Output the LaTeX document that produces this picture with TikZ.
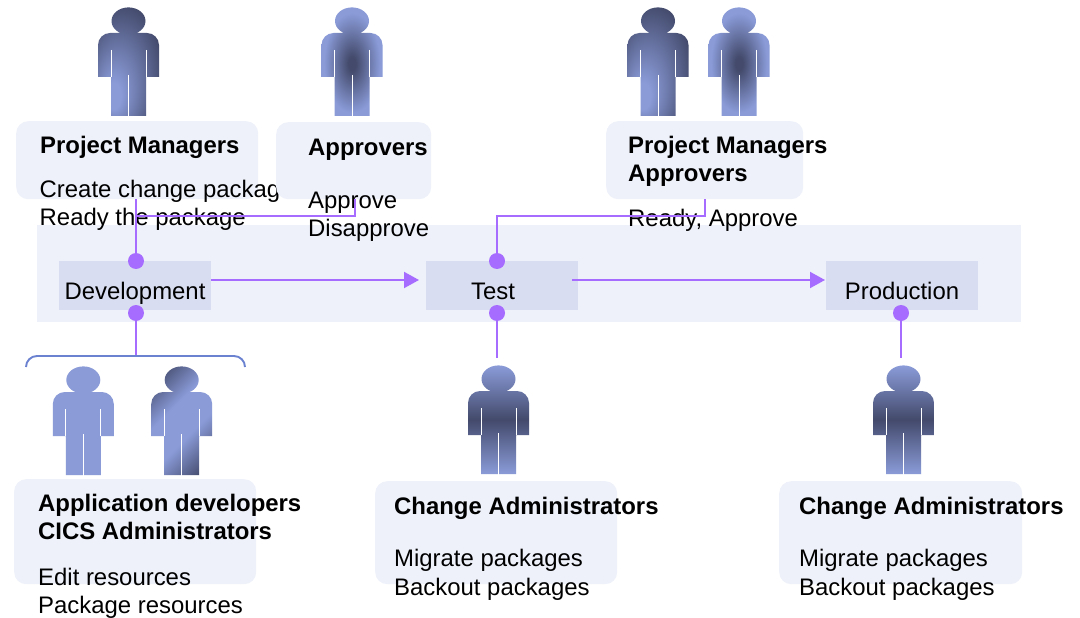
\documentclass[tikz,border=0pt]{standalone}
\usepackage{fontspec}
\setmainfont{Liberation Sans}
\usetikzlibrary{arrows.meta}
\definecolor{pdark}{HTML}{434A6B}
\definecolor{plight}{HTML}{8A9BD8}
\definecolor{bandc}{HTML}{EEF1F9}
\definecolor{stagec}{HTML}{D9DDF1}
\definecolor{linkc}{HTML}{A56CFF}
\definecolor{bracec}{HTML}{6B82D1}
\pgfdeclareradialshading{pmrad}{\pgfpoint{-14bp}{-18bp}}{color(0bp)=(plight); color(6bp)=(plight); color(33bp)=(pdark); color(50bp)=(pdark)}
\pgfdeclareradialshading{aprad}{\pgfpoint{0bp}{-1bp}}{color(0bp)=(pdark); color(3bp)=(pdark); color(23bp)=(plight); color(50bp)=(plight)}
\pgfdeclareverticalshading{diag}{100bp}{color(0bp)=(pdark); color(19bp)=(pdark); color(41bp)=(plight); color(59bp)=(plight); color(81bp)=(pdark); color(100bp)=(pdark)}
\tikzset{
  x=1bp,y=-1bp,
  pmshade/.style={shading=pmrad},
  apshade/.style={shading=aprad},
  vshade/.style={top color=plight,bottom color=plight,middle color=pdark},
  dshade/.style={shading=diag,shading angle=45},
  flatshade/.style={fill=plight},
  pics/person/.style={code={
    \path[#1] (0,14) ellipse [x radius=17,y radius=13.6]
      (-30.5,38) arc[start angle=180,end angle=270,radius=12] -- (18.5,26) arc[start angle=270,end angle=360,radius=12]
      -- (30.5,70) -- (17.5,70) -- (17.5,109) -- (-17.5,109) -- (-17.5,70) -- (-30.5,70) -- cycle;
    \draw[white,line width=.7] (-17.5,43) -- (-17.5,70) (17.5,43) -- (17.5,70) (0,68) -- (0,109.5);
  }},
  infobox/.style={fill=bandc,rounded corners=12bp,inner sep=0pt,anchor=north west},
  stagebox/.style={fill=stagec,inner sep=0pt,minimum width=152bp,minimum height=49bp},
  title/.style={anchor=base west,inner sep=0pt,font=\fontsize{24}{28}\selectfont\bfseries},
  body/.style={anchor=base west,inner sep=0pt,font=\fontsize{24}{28}\selectfont},
  stagelabel/.style={anchor=base,inner sep=0pt,font=\fontsize{24}{28}\selectfont},
  dot/.style={circle,fill=linkc,inner sep=0pt,minimum size=16bp},
  link/.style={draw=linkc,line width=1.9bp},
  flow/.style={link,-{Triangle[length=15bp,width=16bp]}},
}
\begin{document}
\begin{tikzpicture}
\useasboundingbox (0,0) rectangle (1080,618);
% band and stages
\node[fill=bandc,inner sep=0pt,minimum width=984bp,minimum height=97bp] (band) at (529,273.5) {};
\node[stagebox] (dev) at (135,285.5) {};
\node[stagebox] (test) at (502,285.5) {};
\node[stagebox] (prod) at (902,285.5) {};
\node[stagelabel] (devl) at (135,299.5) {Development};
\node[stagelabel] (testl) at (493,299.5) {Test};
\node[stagelabel] (prodl) at (902,299.5) {Production};
% people
\pic at (128.5,7) {person=pmshade};
\pic at (352,7) {person=apshade};
\pic at (658,7) {person=pmshade};
\pic at (739,7) {person=apshade};
\pic at (83.3,366) {person=flatshade};
\pic at (181.7,366) {person=dshade};
\pic at (498.5,365) {person=vshade};
\pic at (903.5,365) {person=vshade};
% info boxes (the Approvers box covers the end of the text to its left)
\node[infobox,minimum width=242bp,minimum height=78bp] (pmbox) at (16,121) {};
\node[title] (pmt) at (40,153.5) {Project Managers};
\node[body] (pmb1) at (39.5,197.5) {Create change package};
\node[body] (pmb2) at (39.5,226) {Ready the package};
\node[infobox,minimum width=155bp,minimum height=77bp] (apbox) at (276,122) {};
\node[title] (apt) at (308,155.5) {Approvers};
\node[body] (apb1) at (308,208.5) {Approve};
\node[body] (apb2) at (308,236.5) {Disapprove};
\node[infobox,minimum width=197bp,minimum height=78bp] (pabox) at (606,121) {};
\node[title] (pat1) at (628,153.5) {Project Managers};
\node[title] (pat2) at (628,181.5) {Approvers};
\node[body] (pab) at (628,226.5) {Ready, Approve};
\node[infobox,minimum width=242bp,minimum height=105bp] (adbox) at (14,479) {};
\node[title] (adt1) at (38,511) {Application developers};
\node[title] (adt2) at (38,539.5) {CICS Administrators};
\node[body] (adb1) at (38,585) {Edit resources};
\node[body] (adb2) at (38,613) {Package resources};
\node[infobox,minimum width=242bp,minimum height=103bp] (cabox) at (375,481) {};
\node[title] (cat) at (394,514) {Change Administrators};
\node[body] (cab1) at (394,566) {Migrate packages};
\node[body] (cab2) at (394,595) {Backout packages};
\node[infobox,minimum width=243bp,minimum height=103bp] (cbbox) at (779,481) {};
\node[title] (cbt) at (799,514) {Change Administrators};
\node[body] (cbb1) at (799,566) {Migrate packages};
\node[body] (cbb2) at (799,595) {Backout packages};
% dots
\node[dot] (d1) at (136,261) {};
\node[dot] (d2) at (136,313) {};
\node[dot] (t1) at (497,261) {};
\node[dot] (t2) at (497,313) {};
\node[dot] (p2) at (901,313) {};
% named free ends
\coordinate (apend) at (355,199);
\coordinate (brtop) at (136,356);
\coordinate (tend) at (497,358);
\coordinate (pend) at (901,358);
\coordinate (apelbow) at (355,216);
\coordinate (teststart) at (572,280);
% connectors
\draw[link] (d1) -- (d1 |- pmbox.south);
\draw[link] (apend) -- (apelbow) -- (d1 |- apelbow);
\draw[link] (pabox.south) -- (pabox.south |- apelbow) -- (t1 |- apelbow) -- (t1);
\draw[link] (d2) -- (brtop);
\draw[link] (t2) -- (tend);
\draw[link] (p2) -- (pend);
\draw[flow] (dev.east |- 0,280) -- (419,280);
\draw[flow] (teststart) -- (825,280);
% brace
\draw[draw=bracec,line width=1.9bp] (26,367) arc[start angle=180,end angle=270,radius=11] -- (brtop) -- (234,356) arc[start angle=270,end angle=360,radius=11];
\end{tikzpicture}
\end{document}
